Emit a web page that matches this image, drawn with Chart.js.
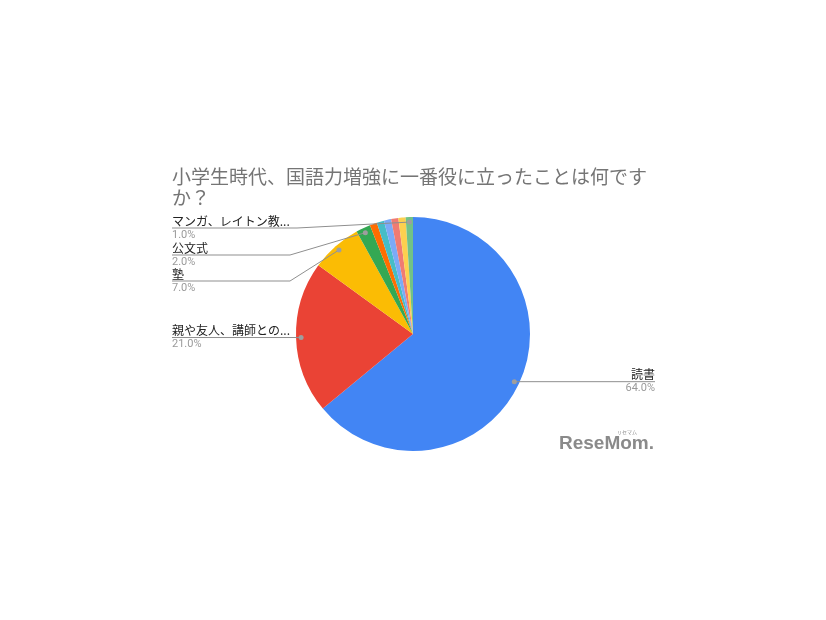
<!DOCTYPE html>
<html>
<head>
<meta charset="utf-8">
<script src="https://cdn.jsdelivr.net/npm/chart.js@4"></script>
<style>
  html, body { margin: 0; padding: 0; background: #fff; }
  #wrap { width: 826px; height: 620px; }
</style>
</head>
<body>
<div id="wrap"><canvas id="myChart" width="826" height="620"></canvas></div>
<script>
const TITLE_LINES = ["小学生時代、国語力増強に一番役に立ったことは何です", "か？"];

// categories (small unlabeled ones are not named in the picture)
const categories = [
        "読書",
        "親や友人、講師との...",
        "塾",
        "公文式",
        "その他1",
        "その他2",
        "その他3",
        "その他4",
        "その他5",
        "マンガ、レイトン教..."
];
const shares = [64, 21, 7, 2, 1, 1, 1, 1, 1, 1];
const colors = ["#4285f4", "#ea4335", "#fbbc04", "#34a853", "#ff6d01",
                "#46bdc6", "#7baaf7", "#f07b72", "#fcd04f", "#71c287"];

// which slices get a leader-line label, and where the label line sits
const callouts = {
        0: { side: "right" },
        1: { side: "left" },
        2: { side: "left", lineY: 281, elbowX: 290 },
        3: { side: "left", lineY: 255, elbowX: 290 },
        9: { side: "left", lineY: 228, elbowX: 297 }
};

const JP = "'Noto Sans CJK JP', 'Noto Sans', sans-serif";
const LEFT_X = 172;
const RIGHT_X = 655;

const calloutPlugin = {
        id: "callouts",
        afterDraw(chart) {
                const ctx = chart.ctx;
                ctx.save();

                // title
                ctx.fillStyle = "#757575";
                ctx.font = "19px " + JP;
                ctx.textBaseline = "middle";
                ctx.textAlign = "left";
                TITLE_LINES.forEach(function(line, i) {
                        ctx.fillText(line, LEFT_X, 177 + i * 21);
                });

                const meta = chart.getDatasetMeta(0);
                const total = shares.reduce(function(a, b) { return a + b; }, 0);
                for (const key in callouts) {
                        const i = Number(key);
                        const c = callouts[key];
                        const arc = meta.data[i];
                        const p = arc.getProps(["x", "y", "startAngle", "endAngle", "outerRadius"], true);
                        const mid = (p.startAngle + p.endAngle) / 2;
                        const dx = p.x + Math.cos(mid) * p.outerRadius * 0.957;
                        const dy = p.y + Math.sin(mid) * p.outerRadius * 0.957;
                        const lineY = c.lineY !== undefined ? c.lineY : dy;

                        ctx.strokeStyle = "#8f8f8f";
                        ctx.lineWidth = 1;
                        ctx.beginPath();
                        ctx.moveTo(dx, dy);
                        if (c.side === "right") {
                                ctx.lineTo(RIGHT_X, lineY);
                        } else {
                                if (c.elbowX !== undefined) ctx.lineTo(c.elbowX, lineY);
                                ctx.lineTo(LEFT_X, lineY);
                        }
                        ctx.stroke();

                        ctx.fillStyle = "#9e9e9e";
                        ctx.beginPath();
                        ctx.arc(dx, dy, 2.5, 0, Math.PI * 2);
                        ctx.fill();

                        const tx = c.side === "right" ? RIGHT_X : LEFT_X;
                        ctx.textAlign = c.side === "right" ? "right" : "left";
                        ctx.fillStyle = "#222222";
                        ctx.font = "12px " + JP;
                        ctx.fillText(categories[i], tx, lineY - 7);
                        ctx.fillStyle = "#9a9a9a";
                        ctx.font = "11px Roboto, 'Liberation Sans', sans-serif";
                        ctx.fillText((shares[i] / total * 100).toFixed(1) + "%", tx, lineY + 7);
                }

                // watermark
                ctx.textAlign = "left";
                ctx.fillStyle = "#8a8a8a";
                ctx.font = "bold 19px 'Liberation Sans', Arial, sans-serif";
                ctx.fillText("ReseMom.", 559, 444);
                ctx.font = "5px " + JP;
                ctx.fillText("リセマム", 617, 432);
                ctx.restore();
        }
};

const data = {
        labels: categories,
        datasets: [{
                data: shares,
                backgroundColor: colors,
                borderWidth: 0
        }]
};

const config = {
        type: "pie",
        data: data,
        options: {
                responsive: false,
                animation: false,
                layout: {
                        padding: { left: 296, right: 296, top: 217, bottom: 169 }
                },
                plugins: {
                        legend: { display: false },
                        tooltip: { enabled: false },
                        title: { display: false }
                }
        },
        plugins: [calloutPlugin]
};

const myChart = new Chart(document.getElementById("myChart"), config);
</script>
</body>
</html>
